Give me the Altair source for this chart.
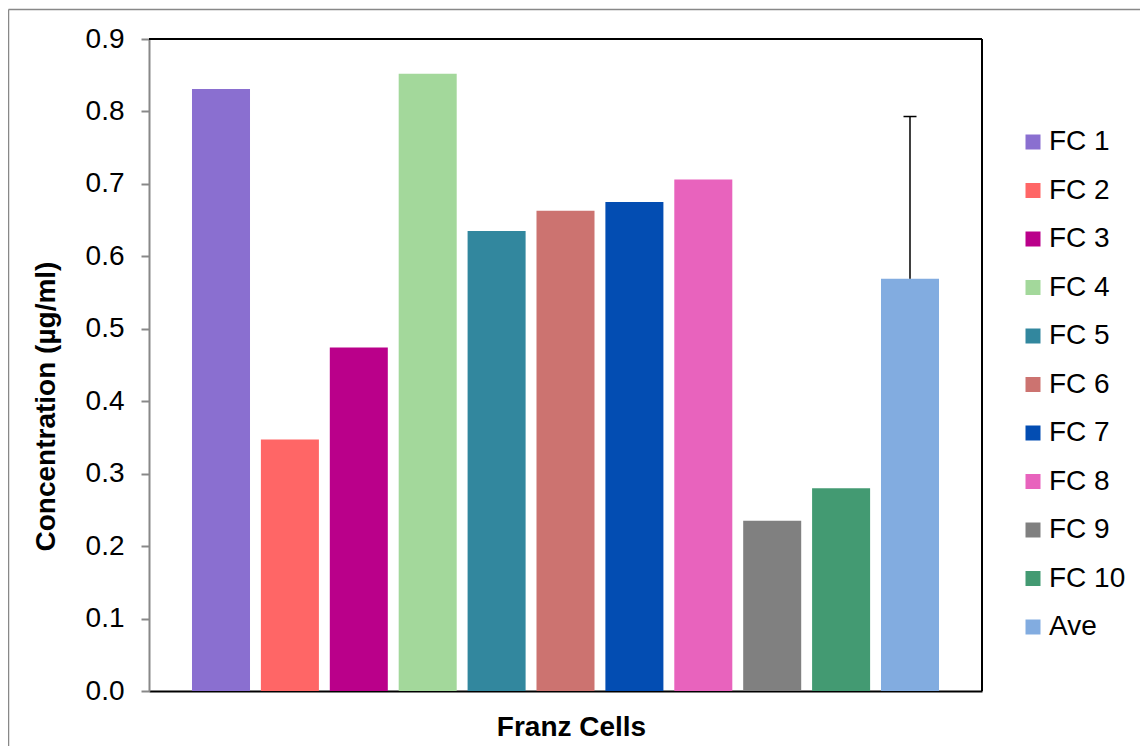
import altair as alt
import pandas as pd

series = ["FC 1", "FC 2", "FC 3", "FC 4", "FC 5", "FC 6", "FC 7", "FC 8", "FC 9", "FC 10", "Ave"]
values = [0.831, 0.347, 0.474, 0.852, 0.635, 0.663, 0.675, 0.706, 0.235, 0.280, 0.569]
colors = ["#8A6FD0", "#FF6666", "#BA008A", "#A3D89B", "#32879E", "#CC7370",
          "#034DB2", "#E863BD", "#808080", "#439A72", "#82ACE0"]
err_series = ["Ave"]
err_low = [0.569]
err_high = [0.793]
y_ticks = [0.0, 0.1, 0.2, 0.3, 0.4, 0.5, 0.6, 0.7, 0.8, 0.9]

FONT = "Liberation Sans"
W, H = 833, 652

df = pd.DataFrame({"series": series, "value": values})
err_df = pd.DataFrame({"series": err_series, "low": err_low, "high": err_high})
frame_df = pd.DataFrame({"a": [0]})

xscale = alt.Scale(domain=series, paddingInner=0.158, paddingOuter=0.624)

bars = alt.Chart(df).mark_bar().encode(
    x=alt.X("series:N", scale=xscale, sort=series,
            axis=alt.Axis(title="Franz Cells", labels=False, ticks=False,
                          domainColor="black", domainWidth=2,
                          titleX=422, titleY=36, titleBaseline="middle",
                          titleAlign="center",
                          titleFontSize=28, titleFontWeight="bold",
                          titleFont=FONT, titleColor="black")),
    y=alt.Y("value:Q", scale=alt.Scale(domain=[0, 0.9], nice=False, zero=True),
            axis=alt.Axis(title="Concentration (µg/ml)", values=y_ticks, format=".1f",
                          grid=False, domainColor="#888888", domainWidth=2,
                          tickColor="#888888", tickWidth=2, tickSize=8,
                          labelFontSize=28, labelFont=FONT, labelColor="black",
                          labelPadding=17,
                          titleX=-103, titleY=367, titleAngle=270,
                          titleAlign="center", titleBaseline="middle",
                          titleFontSize=28, titleFontWeight="bold",
                          titleFont=FONT, titleColor="black")),
    color=alt.Color("series:N", sort=series,
                    scale=alt.Scale(domain=series, range=colors),
                    legend=alt.Legend(title=None, orient="none", legendX=870, legendY=89,
                                      symbolType="square", symbolSize=225,
                                      symbolStrokeWidth=0, symbolOpacity=1,
                                      labelFontSize=28, labelFont=FONT, labelColor="black",
                                      rowPadding=20.5, labelOffset=2)),
)

err_line = alt.Chart(err_df).mark_rule(color="black", strokeWidth=1.5).encode(
    x=alt.X("series:N", scale=xscale),
    y=alt.Y("low:Q"),
    y2="high:Q",
)
err_cap = alt.Chart(err_df).mark_tick(color="black", thickness=1.5, size=13, opacity=1).encode(
    x=alt.X("series:N", scale=xscale),
    y=alt.Y("high:Q"),
)

# plot-area border (top and right, black)
border_top = alt.Chart(frame_df).mark_rule(color="black", strokeWidth=2).encode(
    x=alt.value(0), x2=alt.value(W), y=alt.value(0)
)
border_right = alt.Chart(frame_df).mark_rule(color="black", strokeWidth=2).encode(
    x=alt.value(W), y=alt.value(0), y2=alt.value(H)
)

# outer chart frame (gray)
frame_left = alt.Chart(frame_df).mark_rule(color="#888888", strokeWidth=1.5).encode(
    x=alt.value(-140.5), y=alt.value(-29.5), y2=alt.value(760)
)
frame_top = alt.Chart(frame_df).mark_rule(color="#888888", strokeWidth=1.5).encode(
    x=alt.value(-140.5), x2=alt.value(1100), y=alt.value(-29.5)
)

chart = alt.layer(bars, err_line, err_cap, border_top, border_right,
                  frame_left, frame_top).properties(
    width=W, height=H,
    autosize=alt.AutoSizeParams(type="none"),
    padding={"left": 141, "top": 31, "right": 158, "bottom": 55},
    background="white",
).configure_view(stroke="black", strokeWidth=2).configure(font=FONT)

chart.save("out.html", embed_options={"renderer": "svg", "actions": False})
